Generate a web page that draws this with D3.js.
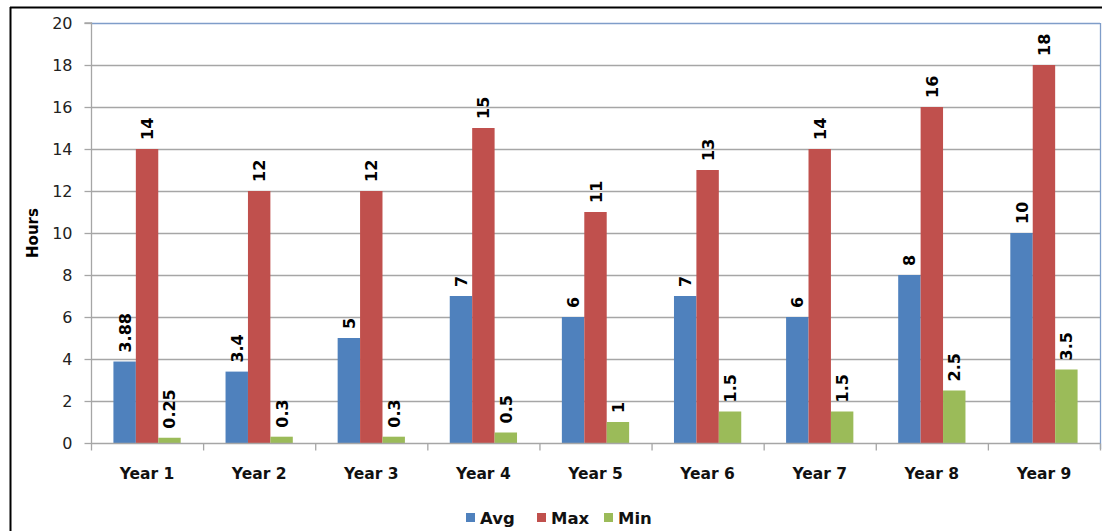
<!DOCTYPE html>
<html>
<head>
<meta charset="utf-8">
<script src="https://cdn.jsdelivr.net/npm/d3@7/dist/d3.min.js"></script>
<style>
  html, body { margin: 0; padding: 0; background: #fff; }
  svg { display: block; }
</style>
</head>
<body>
<svg id="chart" width="1102" height="531"></svg>
<script>
const categories = ["Year 1","Year 2","Year 3","Year 4","Year 5","Year 6","Year 7","Year 8","Year 9"];
const seriesNames = ["Avg","Max","Min"];
const avgValues = [3.88, 3.4, 5, 7, 6, 7, 6, 8, 10];
const maxValues = [14, 12, 12, 15, 11, 13, 14, 16, 18];
const minValues = [0.25, 0.3, 0.3, 0.5, 1, 1.5, 1.5, 2.5, 3.5];
const yTicks = [0, 2, 4, 6, 8, 10, 12, 14, 16, 18, 20];
const colors = ["#4F81BD", "#C0504D", "#9BBB59"];

const series = [avgValues, maxValues, minValues];
const svg = d3.select("#chart");
const W = 1102, H = 531;
const plot = { left: 91, right: 1100, top: 23, bottom: 443 };
const font = "'DejaVu Sans', Tahoma, Verdana, sans-serif";

// outer frame
svg.append("line").attr("x1", 10).attr("x2", W).attr("y1", 7.5).attr("y2", 7.5)
  .attr("stroke", "#000").attr("stroke-width", 2);
svg.append("line").attr("x1", 10.5).attr("x2", 10.5).attr("y1", 7).attr("y2", H)
  .attr("stroke", "#000").attr("stroke-width", 2);

const x0 = d3.scaleBand().domain(categories).range([plot.left, plot.right]).paddingInner(0).paddingOuter(0);
const groupW = x0.bandwidth() * 0.6;
const x1 = d3.scaleBand().domain(seriesNames).range([0, groupW]);
const y = d3.scaleLinear().domain([0, 20]).range([plot.bottom, plot.top]);

// gridlines
svg.append("g").selectAll("line").data(yTicks.filter(t => t > 0)).join("line")
  .attr("x1", plot.left).attr("x2", plot.right)
  .attr("y1", d => Math.round(y(d)) + 0.5).attr("y2", d => Math.round(y(d)) + 0.5)
  .attr("stroke", d => d === 20 ? "#7F9DC9" : "#A6A6A6").attr("stroke-width", 1.3);

// right plot border
svg.append("line").attr("x1", plot.right + 0.5).attr("x2", plot.right + 0.5)
  .attr("y1", plot.top).attr("y2", plot.bottom + 6)
  .attr("stroke", "#7F9DC9").attr("stroke-width", 1.3);

// bars
const groups = svg.append("g").selectAll("g").data(categories).join("g")
  .attr("transform", d => `translate(${x0(d) + (x0.bandwidth() - groupW) / 2},0)`);

groups.selectAll("rect").data((d, i) => seriesNames.map((s, j) => ({ s, v: series[j][i], j })))
  .join("rect")
  .attr("x", d => x1(d.s))
  .attr("width", x1.bandwidth())
  .attr("y", d => y(d.v))
  .attr("height", d => y(0) - y(d.v))
  .attr("fill", d => colors[d.j]);

// value labels
groups.selectAll("text").data((d, i) => seriesNames.map((s, j) => ({ s, v: series[j][i], j })))
  .join("text")
  .attr("transform", d => `translate(${x1(d.s) + x1.bandwidth() / 2 + 6},${y(d.v) - 9}) rotate(-90)`)
  .attr("text-anchor", "start")
  .attr("font-family", font).attr("font-weight", "bold").attr("font-size", 16)
  .attr("fill", "#000")
  .text(d => d.v);

// y axis
const yAxis = d3.axisLeft(y).tickValues(yTicks).tickSize(7).tickPadding(12).tickFormat(d3.format("d"));
const gy = svg.append("g").attr("transform", `translate(${plot.left + 0.5},0)`).call(yAxis);
gy.select(".domain").attr("stroke", "#A6A6A6").attr("stroke-width", 1.3).attr("d", `M-7,${plot.top}H0V${plot.bottom}`);
gy.selectAll(".tick line").attr("stroke", "#A6A6A6").attr("stroke-width", 1.3);
gy.selectAll(".tick text").attr("font-family", font).attr("font-size", 16).attr("fill", "#222");

// x axis
const gx = svg.append("g").attr("transform", `translate(0,${Math.round(plot.bottom) + 0.5})`);
gx.append("line").attr("x1", plot.left).attr("x2", plot.right).attr("y1", 0).attr("y2", 0)
  .attr("stroke", "#A6A6A6").attr("stroke-width", 1.3);
gx.selectAll("line.tk").data(categories.concat(["end"])).join("line").attr("class", "tk")
  .attr("x1", (d, i) => plot.left + i * x0.step() + 0.5).attr("x2", (d, i) => plot.left + i * x0.step() + 0.5)
  .attr("y1", 0).attr("y2", 7).attr("stroke", "#A6A6A6").attr("stroke-width", 1.3);
gx.selectAll("text").data(categories).join("text")
  .attr("x", d => x0(d) + x0.bandwidth() / 2).attr("y", 35)
  .attr("text-anchor", "middle")
  .attr("font-family", font).attr("font-weight", "bold").attr("font-size", 15.5).attr("fill", "#111")
  .text(d => d);

// y title
svg.append("text").attr("transform", `translate(38,${(plot.top + plot.bottom) / 2}) rotate(-90)`)
  .attr("text-anchor", "middle")
  .attr("font-family", font).attr("font-weight", "bold").attr("font-size", 15).attr("fill", "#000")
  .text("Hours");

// legend
const legendX = [466, 537, 604];
const lg = svg.append("g").selectAll("g").data(seriesNames).join("g")
  .attr("transform", (d, i) => `translate(${legendX[i]},513)`);
lg.append("rect").attr("x", 0).attr("y", 0).attr("width", 9).attr("height", 9).attr("fill", (d, i) => colors[i]);
lg.append("text").attr("x", 14).attr("y", 11)
  .attr("font-family", font).attr("font-weight", "bold").attr("font-size", 16.5).attr("fill", "#111")
  .text(d => d);
</script>
</body>
</html>
